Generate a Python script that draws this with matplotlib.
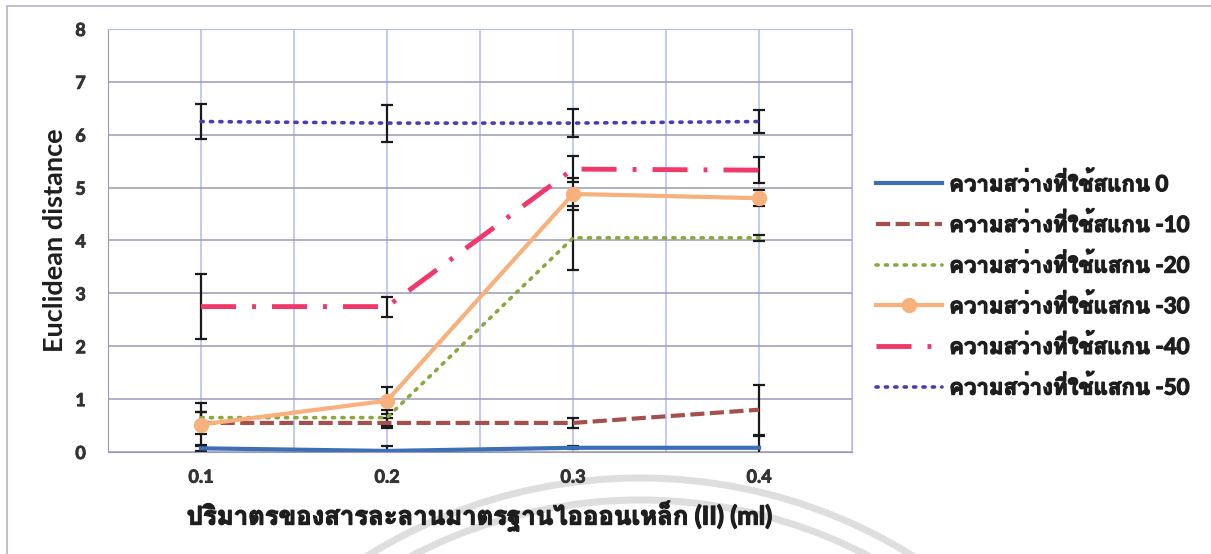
import numpy as np
import matplotlib
matplotlib.use('Agg')
import matplotlib.pyplot as plt
import matplotlib.patheffects as pe
from matplotlib import font_manager
from matplotlib.ft2font import FT2Font
from matplotlib.patches import Arc, Rectangle

# x categories (ml of Fe(II) standard)
volumes = [0.1, 0.2, 0.3, 0.4]
vol_labels = ['0.1', '0.2', '0.3', '0.4']
dist_ticks = [0, 1, 2, 3, 4, 5, 6, 7, 8]

labels = ['ความสว่างที่ใช้สแกน 0', 'ความสว่างที่ใช้สแกน -10', 'ความสว่างที่ใช้แสกน -20',
          'ความสว่างที่ใช้แสกน -30', 'ความสว่างที่ใช้สแกน -40', 'ความสว่างที่ใช้แสกน -50']

dist_0 = [0.07, 0.02, 0.08, 0.08]
dist_10 = [0.55, 0.55, 0.55, 0.80]
dist_20 = [0.65, 0.65, 4.05, 4.05]
dist_30 = [0.52, 0.97, 4.88, 4.80]
dist_40 = [2.75, 2.75, 5.35, 5.33]
dist_50 = [6.25, 6.22, 6.22, 6.25]

err_0 = [0.06, 0.09, 0.03, 0.22]
err_10 = [0.20, 0.10, 0.10, 0.47]
err_20 = [0.10, 0.15, 0.60, 0.06]
err_30 = [0.40, 0.25, 0.30, 0.15]
err_40 = [0.62, 0.19, 0.25, 0.25]
err_50 = [0.33, 0.35, 0.27, 0.22]


def thai_font():
    # first installed family that has Thai glyphs
    names = []
    for f in font_manager.fontManager.ttflist:
        try:
            cmap = FT2Font(f.fname).get_charmap()
        except Exception:
            continue
        if 0x0E01 in cmap and 0x0E32 in cmap:
            names.append(f.name)
    return names[0] if names else None


tf = thai_font()
fams = ['Lato'] + ([tf] if tf else []) + ['DejaVu Sans']
plt.rcParams['font.family'] = fams
# thicken glyphs a little
heavy = [pe.withStroke(linewidth=0.9, foreground='#1e1e1e')]
heavy_ticks = [pe.withStroke(linewidth=0.6, foreground='#333333')]

fig = plt.figure(figsize=(12.11, 5.54), dpi=100)
fig.patches.append(Rectangle((0.006, -0.05), 1.2, 1.039, transform=fig.transFigure,
                             fill=False, edgecolor='#b4b4c8', lw=1.2))

# faint round stamp along the bottom edge
for r in (517, 495):
    fig.patches.append(Arc((640, -441), 2 * r, 2 * r, transform=None, theta1=0, theta2=180,
                           color='#dedede', lw=5, zorder=-1))

ax = fig.add_axes([0.0892, 0.1841, 0.6144, 0.7636])

series = [
    (dist_0, err_0, dict(color='#3d6fb4', lw=3, ls='-')),
    (dist_10, err_10, dict(color='#a6504e', lw=3, ls=(0, (3.4, 1.3)))),
    (dist_20, err_20, dict(color='#8aa83e', lw=2.6, ls=(0, (0.6, 2.0)), dash_capstyle='round')),
    (dist_30, err_30, dict(color='#f8b07c', lw=3, ls='-', marker='o', ms=10)),
    (dist_40, err_40, dict(color='#f0386a', lw=3.5, ls=(0, (7.2, 3.3, 0.8, 3.3)))),
    (dist_50, err_50, dict(color='#4a3cb4', lw=2.6, ls=(0, (0.6, 2.0)), dash_capstyle='round')),
]

handles = []
for (vals, errs, style), lab in zip(series, labels):
    eb = ax.errorbar(volumes, vals, yerr=errs, ecolor='#1a1a1a', elinewidth=1.6, capsize=4,
                     capthick=1.6, label=lab, **style)
    handles.append(eb[0])

ax.set_xlim(0.05, 0.45)
ax.set_ylim(0, 8)
ax.set_xticks(volumes, labels=vol_labels, fontweight='bold', path_effects=heavy_ticks)
ax.set_xticks(np.arange(0.05, 0.46, 0.1), minor=True)
ax.set_yticks(dist_ticks, labels=[str(v) for v in dist_ticks], fontweight='bold',
              path_effects=heavy_ticks)
ax.grid(True, which='major', axis='y', color='#9a9ab8', lw=1.1)
ax.grid(True, which='both', axis='x', color='#b4baf0', lw=1.1)
ax.set_axisbelow(True)
ax.tick_params(which='both', length=0, labelsize=13, labelcolor='#333333')
ax.tick_params(axis='y', pad=16)
ax.tick_params(axis='x', pad=12)
for s in ['top', 'right']:
    ax.spines[s].set_color('#b4baf0')
for s in ['left', 'bottom']:
    ax.spines[s].set_color('#9a9ab8')

ax.set_ylabel('Euclidean distance', fontsize=19.5, fontweight='bold', labelpad=6,
              color='#1e1e1e')
ax.set_xlabel('ปริมาตรของสารละลานมาตรฐานไอออนเหล็ก (II) (ml)', fontsize=18.5,
              fontweight='bold', labelpad=10, color='#1e1e1e', path_effects=heavy)

leg = ax.legend(handles, labels, loc='center left', bbox_to_anchor=(1.005, 0.395),
                frameon=False, prop={'size': 16, 'weight': 'bold'}, handlelength=3.0,
                handletextpad=0.3, labelspacing=0.75)
for t in leg.get_texts():
    t.set_color('#1e1e1e')
    t.set_path_effects(heavy)

fig.savefig('out.png', dpi=100)
